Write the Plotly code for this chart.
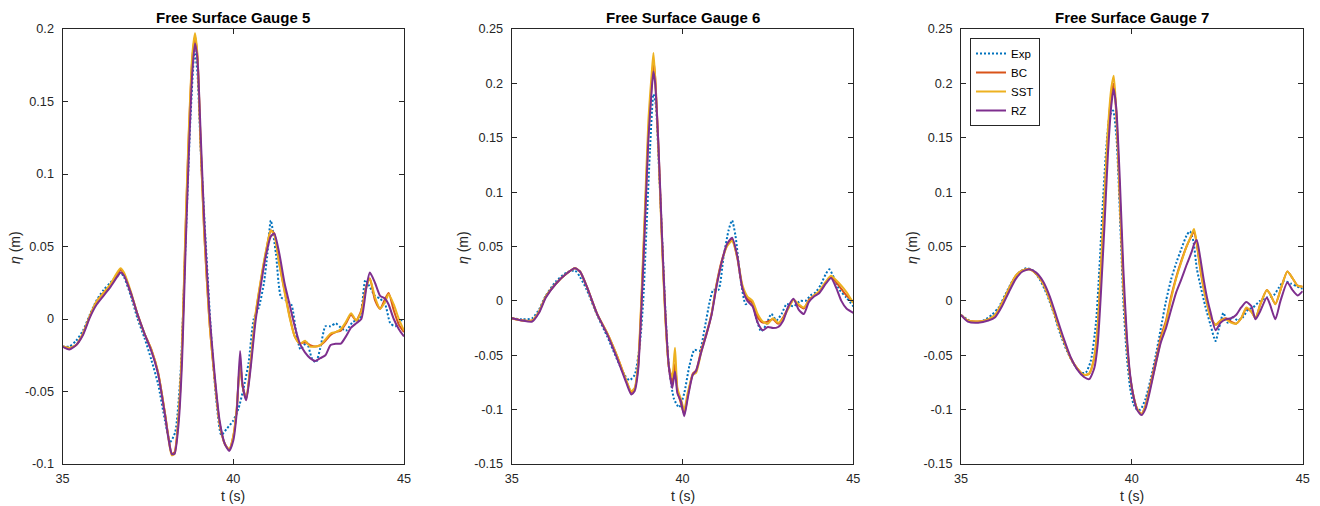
import plotly.graph_objects as go

# ---------------- data ----------------
# Gauge 5
t5_exp = [35.0, 35.2, 35.4, 35.6, 35.8, 36.0, 36.2, 36.4, 36.6, 36.7,
          36.8, 37.0, 37.2, 37.4, 37.6, 37.8, 38.0, 38.15, 38.3, 38.45,
          38.6, 38.75, 38.87, 38.95, 39.05, 39.2, 39.35, 39.5, 39.65, 39.8,
          40.0, 40.15, 40.3, 40.45, 40.6, 40.75, 40.9, 41.0, 41.1, 41.25, 41.4,
          41.55, 41.7, 41.85, 41.97, 42.15, 42.3, 42.42, 42.55, 42.7, 42.85,
          43.0, 43.15, 43.3, 43.5, 43.7, 43.87, 44.0, 44.15, 44.3, 44.45,
          44.6, 44.75, 44.9, 45.0]
y5_exp = [-0.019, -0.019, -0.015, -0.008, 0.003, 0.013, 0.020, 0.025, 0.030, 0.032,
          0.029, 0.016, 0.000, -0.013, -0.028, -0.045, -0.070, -0.085, -0.078, -0.040,
          0.050, 0.140, 0.185, 0.170, 0.115, 0.050, -0.010, -0.055, -0.080, -0.076,
          -0.070, -0.062, -0.048, -0.030, 0.000, 0.008, 0.025, 0.045, 0.068, 0.045, 0.015,
          0.013, 0.010, -0.010, -0.021, -0.016, -0.027, -0.030, -0.020, -0.005, -0.005,
          -0.003, -0.006, -0.008, -0.002, 0.000, 0.027, 0.022, 0.016, 0.014, 0.010,
          -0.003, -0.005, -0.001, -0.001]
t5_sim = [35.0, 35.2, 35.4, 35.6, 35.8, 36.0, 36.2, 36.4, 36.6, 36.7, 36.8,
          37.0, 37.2, 37.4, 37.6, 37.8, 38.0, 38.1, 38.2, 38.28, 38.4, 38.5,
          38.6, 38.7, 38.8, 38.88, 38.95, 39.05, 39.15, 39.3, 39.45, 39.6,
          39.75, 39.88, 40.0, 40.1, 40.2, 40.27, 40.38, 40.5, 40.65, 40.8,
          40.95, 41.1, 41.2, 41.35, 41.5, 41.65, 41.8, 41.95, 42.1, 42.25,
          42.4, 42.55, 42.7, 42.85, 43.0, 43.15, 43.3, 43.45, 43.6, 43.75,
          43.9, 44.0, 44.15, 44.3, 44.45, 44.55, 44.7, 44.85, 45.0]
y5_bc = [-0.019, -0.020, -0.018, -0.010, 0.002, 0.012, 0.018, 0.023, 0.031, 0.034, 0.031,
         0.018, 0.003, -0.010, -0.021, -0.037, -0.065, -0.081, -0.093, -0.092, -0.067, -0.021,
         0.059, 0.128, 0.179, 0.195, 0.181, 0.117, 0.059, -0.001, -0.040, -0.072,
         -0.086, -0.090, -0.081, -0.063, -0.030, -0.046, -0.055, -0.033, 0.002, 0.025,
         0.045, 0.061, 0.059, 0.038, 0.020, 0.002, -0.012, -0.017, -0.016, -0.018,
         -0.019, -0.018, -0.015, -0.011, -0.009, -0.008, -0.003, 0.003, -0.001, 0.006,
         0.023, 0.028, 0.013, 0.007, 0.014, 0.018, 0.006, -0.004, -0.009]
y5_sst = [-0.019, -0.020, -0.018, -0.010, 0.002, 0.012, 0.018, 0.024, 0.032, 0.035, 0.032,
          0.019, 0.003, -0.010, -0.021, -0.037, -0.065, -0.082, -0.094, -0.093, -0.067, -0.020,
          0.062, 0.131, 0.182, 0.197, 0.183, 0.118, 0.060, -0.001, -0.040, -0.072,
          -0.086, -0.090, -0.081, -0.062, -0.030, -0.046, -0.055, -0.032, 0.003, 0.026,
          0.046, 0.061, 0.058, 0.038, 0.019, 0.001, -0.012, -0.017, -0.015, -0.019,
          -0.019, -0.018, -0.014, -0.010, -0.009, -0.007, -0.002, 0.004, -0.001, 0.005,
          0.022, 0.028, 0.015, 0.007, 0.012, 0.017, 0.010, 0.000, -0.008]
y5_rz = [-0.019, -0.021, -0.018, -0.011, 0.001, 0.010, 0.016, 0.022, 0.029, 0.032, 0.030,
         0.018, 0.003, -0.010, -0.022, -0.038, -0.066, -0.082, -0.093, -0.093, -0.072, -0.030,
         0.045, 0.115, 0.170, 0.190, 0.180, 0.125, 0.068, 0.005, -0.037, -0.070,
         -0.086, -0.091, -0.084, -0.065, -0.022, -0.045, -0.056, -0.036, -0.002, 0.022,
         0.043, 0.057, 0.059, 0.045, 0.025, 0.010, -0.005, -0.017, -0.023, -0.027,
         -0.029, -0.027, -0.025, -0.018, -0.017, -0.017, -0.012, -0.006, -0.003, 0.000,
         0.022, 0.032, 0.025, 0.016, 0.014, 0.010, 0.000, -0.007, -0.012]

# Gauge 6
t6_exp = [35.0, 35.3, 35.6, 35.8, 36.0, 36.3, 36.6, 36.85, 37.0, 37.2,
          37.5, 37.8, 38.1, 38.3, 38.45, 38.6, 38.75, 38.85, 38.95, 39.05,
          39.15, 39.22, 39.3, 39.4, 39.5, 39.6, 39.75, 39.9, 40.05, 40.2,
          40.35, 40.5, 40.65, 40.8, 40.9, 41.05, 41.2, 41.35, 41.45, 41.55,
          41.7, 41.85, 42.0, 42.15, 42.3, 42.45, 42.6, 42.75, 42.9, 43.05,
          43.25, 43.45, 43.6, 43.75, 43.9, 44.05, 44.2, 44.3, 44.45, 44.6,
          44.8, 45.0]
y6_exp = [-0.016, -0.017, -0.016, -0.008, 0.005, 0.018, 0.026, 0.028, 0.022, 0.010,
          -0.013, -0.033, -0.055, -0.068, -0.073, -0.068, -0.040, 0.000, 0.070, 0.140,
          0.190, 0.180, 0.130, 0.060, -0.010, -0.060, -0.090, -0.098, -0.085, -0.060,
          -0.045, -0.046, -0.025, 0.000, 0.010, 0.010, 0.040, 0.065, 0.074, 0.060,
          0.020, -0.003, 0.000, -0.015, -0.028, -0.022, -0.012, -0.018, -0.012, -0.003,
          -0.005, 0.000, 0.000, 0.005, 0.008, 0.015, 0.025, 0.029, 0.020, 0.010,
          0.003, -0.005]
t6_sim = [35.0, 35.3, 35.6, 35.8, 36.0, 36.3, 36.6, 36.85, 37.0, 37.2, 37.5, 37.8,
          38.1, 38.35, 38.5, 38.6, 38.7, 38.8, 38.9, 39.0, 39.1, 39.15, 39.2, 39.3,
          39.4, 39.5, 39.6, 39.7, 39.78, 39.85, 39.95, 40.05, 40.15, 40.3, 40.4,
          40.55, 40.7, 40.85, 41.0, 41.15, 41.3, 41.45, 41.6, 41.75, 41.9, 42.05,
          42.2, 42.35, 42.5, 42.65, 42.8, 42.95, 43.1, 43.25, 43.4, 43.55, 43.7,
          43.85, 44.0, 44.2, 44.35, 44.5, 44.65, 44.8, 45.0]
y6_bc = [-0.016, -0.018, -0.018, -0.010, 0.004, 0.016, 0.025, 0.030, 0.027, 0.013, -0.012, -0.030,
         -0.052, -0.073, -0.084, -0.081, -0.061, 0.001, 0.077, 0.154, 0.200, 0.221, 0.206, 0.139,
         0.056, -0.015, -0.061, -0.076, -0.058, -0.082, -0.094, -0.104, -0.088, -0.067, -0.064,
         -0.045, -0.030, -0.012, 0.016, 0.037, 0.051, 0.057, 0.040, 0.013, 0.002, -0.002,
         -0.015, -0.020, -0.019, -0.017, -0.021, -0.015, -0.006, 0.001, -0.004, -0.007, 0.001,
         0.005, 0.008, 0.017, 0.022, 0.017, 0.011, 0.005, -0.001]
y6_sst = [-0.016, -0.018, -0.018, -0.010, 0.004, 0.016, 0.025, 0.030, 0.027, 0.013, -0.012, -0.030,
          -0.052, -0.073, -0.083, -0.080, -0.058, 0.006, 0.085, 0.165, 0.210, 0.228, 0.205, 0.135,
          0.052, -0.018, -0.060, -0.070, -0.043, -0.080, -0.090, -0.100, -0.085, -0.068, -0.066,
          -0.047, -0.031, -0.012, 0.015, 0.036, 0.050, 0.055, 0.041, 0.015, 0.004, 0.000,
          -0.012, -0.019, -0.021, -0.016, -0.020, -0.016, -0.007, 0.001, -0.003, -0.006, 0.000,
          0.005, 0.009, 0.018, 0.023, 0.019, 0.014, 0.008, -0.002]
y6_rz = [-0.016, -0.018, -0.019, -0.011, 0.003, 0.016, 0.025, 0.030, 0.027, 0.013, -0.012, -0.031,
         -0.054, -0.075, -0.086, -0.083, -0.064, -0.005, 0.070, 0.148, 0.195, 0.211, 0.200, 0.140,
         0.060, -0.012, -0.060, -0.080, -0.065, -0.085, -0.092, -0.106, -0.090, -0.068, -0.064,
         -0.047, -0.031, -0.013, 0.014, 0.036, 0.052, 0.058, 0.042, 0.012, 0.000, -0.005,
         -0.020, -0.027, -0.024, -0.025, -0.024, -0.018, -0.005, 0.002, -0.008, -0.012, -0.001,
         0.004, 0.007, 0.016, 0.021, 0.012, 0.000, -0.007, -0.011]

# Gauge 7
t7_exp = [35.0, 35.3, 35.6, 35.9, 36.1, 36.3, 36.5, 36.7, 36.9, 37.1,
          37.3, 37.5, 37.7, 37.9, 38.1, 38.3, 38.5, 38.65, 38.8, 38.95,
          39.05, 39.15, 39.25, 39.35, 39.45, 39.55, 39.65, 39.75, 39.85, 39.95,
          40.05, 40.15, 40.25, 40.4, 40.55, 40.7, 40.85, 41.0, 41.15, 41.3,
          41.45, 41.6, 41.7, 41.8, 41.9, 42.0, 42.15, 42.3, 42.45, 42.55,
          42.68, 42.8, 42.95, 43.1, 43.25, 43.4, 43.55, 43.75, 43.95, 44.15,
          44.3, 44.45, 44.65, 44.85, 45.0]
y7_exp = [-0.013, -0.019, -0.019, -0.013, -0.006, 0.006, 0.018, 0.026, 0.030, 0.028,
          0.020, 0.007, -0.010, -0.030, -0.046, -0.058, -0.066, -0.066, -0.055, -0.020,
          0.030, 0.090, 0.140, 0.170, 0.175, 0.150, 0.080, 0.000, -0.050, -0.080,
          -0.095, -0.100, -0.100, -0.090, -0.072, -0.050, -0.025, 0.000, 0.020, 0.035,
          0.048, 0.060, 0.064, 0.055, 0.030, 0.015, -0.005, -0.022, -0.037, -0.025,
          -0.011, -0.020, -0.015, -0.018, -0.015, -0.008, -0.006, 0.000, 0.003, 0.005,
          0.012, 0.018, 0.016, 0.013, 0.011]
t7_sim = [35.0, 35.2, 35.5, 35.8, 36.0, 36.2, 36.4, 36.6, 36.8, 37.0,
          37.2, 37.4, 37.6, 37.8, 38.0, 38.2, 38.4, 38.6, 38.75, 38.9,
          39.0, 39.1, 39.2, 39.3, 39.4, 39.47, 39.55, 39.65, 39.75, 39.85,
          39.95, 40.05, 40.15, 40.28, 40.4, 40.55, 40.7, 40.85, 41.0, 41.15,
          41.3, 41.45, 41.6, 41.75, 41.82, 41.9, 42.0, 42.1, 42.2, 42.3,
          42.45, 42.6, 42.75, 42.9, 43.05, 43.2, 43.35, 43.5, 43.62, 43.75,
          43.95, 44.05, 44.2, 44.35, 44.55, 44.7, 44.85, 45.0]
y7_bc = [-0.013, -0.018, -0.019, -0.017, -0.013, -0.002, 0.011, 0.023, 0.028, 0.029,
         0.025, 0.016, 0.001, -0.018, -0.036, -0.052, -0.062, -0.068, -0.067, -0.052,
         -0.024, 0.031, 0.093, 0.154, 0.190, 0.200, 0.169, 0.093, 0.016, -0.036,
         -0.070, -0.088, -0.099, -0.104, -0.096, -0.076, -0.055, -0.033, -0.018, 0.004,
         0.022, 0.037, 0.050, 0.060, 0.064, 0.052, 0.030, 0.012, -0.002, -0.015,
         -0.022, -0.018, -0.016, -0.019, -0.021, -0.016, -0.007, -0.010, -0.016, -0.004,
         0.010, 0.006, -0.003, 0.010, 0.027, 0.021, 0.014, 0.013]
y7_sst = [-0.013, -0.018, -0.019, -0.017, -0.013, -0.002, 0.011, 0.023, 0.028, 0.029,
          0.025, 0.016, 0.001, -0.018, -0.036, -0.052, -0.062, -0.068, -0.067, -0.052,
          -0.024, 0.033, 0.096, 0.158, 0.196, 0.207, 0.172, 0.094, 0.016, -0.036,
          -0.070, -0.088, -0.099, -0.104, -0.097, -0.078, -0.058, -0.036, -0.020, 0.002,
          0.021, 0.036, 0.050, 0.061, 0.066, 0.053, 0.031, 0.012, -0.002, -0.015,
          -0.022, -0.018, -0.017, -0.020, -0.021, -0.016, -0.006, -0.010, -0.016, -0.004,
          0.010, 0.006, -0.003, 0.010, 0.027, 0.021, 0.014, 0.013]
y7_rz = [-0.013, -0.019, -0.020, -0.018, -0.015, -0.005, 0.008, 0.020, 0.027, 0.029,
         0.026, 0.018, 0.004, -0.015, -0.034, -0.051, -0.063, -0.070, -0.072, -0.062,
         -0.040, 0.010, 0.070, 0.135, 0.180, 0.195, 0.175, 0.110, 0.030, -0.030,
         -0.068, -0.088, -0.100, -0.105, -0.099, -0.080, -0.058, -0.038, -0.025, -0.008,
         0.008, 0.020, 0.033, 0.045, 0.052, 0.056, 0.040, 0.020, 0.003, -0.010,
         -0.027, -0.020, -0.017, -0.016, -0.013, -0.006, -0.001, -0.005, -0.017, -0.010,
         0.003, -0.004, -0.017, 0.000, 0.017, 0.010, 0.005, 0.009]

titles = ["Free Surface Gauge 5", "Free Surface Gauge 6", "Free Surface Gauge 7"]
series_names = ["Exp", "BC", "SST", "RZ"]
x_ticks = [35, 40, 45]
y_ticks_5 = [-0.1, -0.05, 0, 0.05, 0.1, 0.15, 0.2]
y_ticklabels_5 = ["-0.1", "-0.05", "0", "0.05", "0.1", "0.15", "0.2"]
y_ticks_67 = [-0.15, -0.1, -0.05, 0, 0.05, 0.1, 0.15, 0.2, 0.25]
y_ticklabels_67 = ["-0.15", "-0.1", "-0.05", "0", "0.05", "0.1", "0.15", "0.2", "0.25"]

panels = [
    (t5_exp, y5_exp, t5_sim, [y5_bc, y5_sst, y5_rz], [-0.1, 0.2], y_ticks_5, y_ticklabels_5),
    (t6_exp, y6_exp, t6_sim, [y6_bc, y6_sst, y6_rz], [-0.15, 0.25], y_ticks_67, y_ticklabels_67),
    (t7_exp, y7_exp, t7_sim, [y7_bc, y7_sst, y7_rz], [-0.15, 0.25], y_ticks_67, y_ticklabels_67),
]

# ---------------- styling ----------------
W, H = 1320, 506
C_EXP, C_BC, C_SST, C_RZ = "#0072BD", "#D95319", "#EDB120", "#7E2F8E"
sim_colors = [C_BC, C_SST, C_RZ]
FONT = "Liberation Sans, Arial, Helvetica, sans-serif"
AX = "#262626"

x_px = [(62.5, 404.0), (511.7, 853.3), (961.0, 1302.7)]
y_top, y_bot = 29.0, 464.0
ydom = [1 - y_bot / H, 1 - y_top / H]

fig = go.Figure()
annotations = []

for i, (te, ye, ts, sims, yr, yt, ytl) in enumerate(panels):
    n = "" if i == 0 else str(i + 1)
    xa, ya = "x" + n, "y" + n
    show = (i == 2)
    fig.add_trace(go.Scatter(x=te, y=ye, mode="lines", name=series_names[0],
                             line=dict(color=C_EXP, width=2, dash="2px,2px", shape="spline", smoothing=0.6),
                             xaxis=xa, yaxis=ya, showlegend=show))
    for k, ys in enumerate(sims):
        fig.add_trace(go.Scatter(x=ts, y=ys, mode="lines", name=series_names[k + 1],
                                 line=dict(color=sim_colors[k], width=2, shape="spline", smoothing=0.6),
                                 xaxis=xa, yaxis=ya, showlegend=show))
    axcommon = dict(showline=True, linecolor=AX, linewidth=1, mirror="ticks",
                    ticks="inside", ticklen=5, tickwidth=1, tickcolor=AX,
                    showgrid=False, zeroline=False, automargin=False,
                    tickfont=dict(family=FONT, size=12.7, color=AX))
    x0, x1 = x_px[i]
    fig.update_layout(**{
        "xaxis" + n: dict(domain=[x0 / W, x1 / W], range=[35, 45], tickvals=x_ticks,
                          anchor=ya, ticklabelstandoff=3, **axcommon),
        "yaxis" + n: dict(domain=ydom, range=yr, tickvals=yt, ticktext=ytl,
                          anchor=xa, ticklabelstandoff=5, **axcommon),
    })
    cx = (x0 + x1) / 2 / W
    annotations.append(dict(text="<b>" + titles[i] + "</b>", x=cx, y=1 - 17 / H,
                            xref="paper", yref="paper", showarrow=False,
                            font=dict(family=FONT, size=15, color="#000000"),
                            xanchor="center", yanchor="middle"))
    annotations.append(dict(text="t (s)", x=cx, y=1 - 496 / H, xref="paper", yref="paper",
                            showarrow=False, font=dict(family=FONT, size=14, color=AX),
                            xanchor="center", yanchor="middle"))
    ylab_x = [15, 463, 912][i]
    annotations.append(dict(text="<i>η</i> (m)", x=ylab_x / W, y=1 - 248 / H,
                            xref="paper", yref="paper", showarrow=False, textangle=-90,
                            font=dict(family=FONT, size=14, color=AX),
                            xanchor="center", yanchor="middle"))

fig.update_layout(
    width=W, height=H, margin=dict(l=0, r=0, t=0, b=0, autoexpand=False),
    paper_bgcolor="white", plot_bgcolor="white",
    annotations=annotations,
    showlegend=True,
    legend=dict(x=970 / W, y=1 - 38 / H, xanchor="left", yanchor="top",
                bgcolor="white", bordercolor=AX, borderwidth=1,
                font=dict(family=FONT, size=11.5, color="#000000"),
                tracegroupgap=0, itemwidth=30),
)

fig.write_html("out.html", config={"displayModeBar": False},
               post_script="document.body.style.margin='0';document.body.style.overflow='hidden';")
